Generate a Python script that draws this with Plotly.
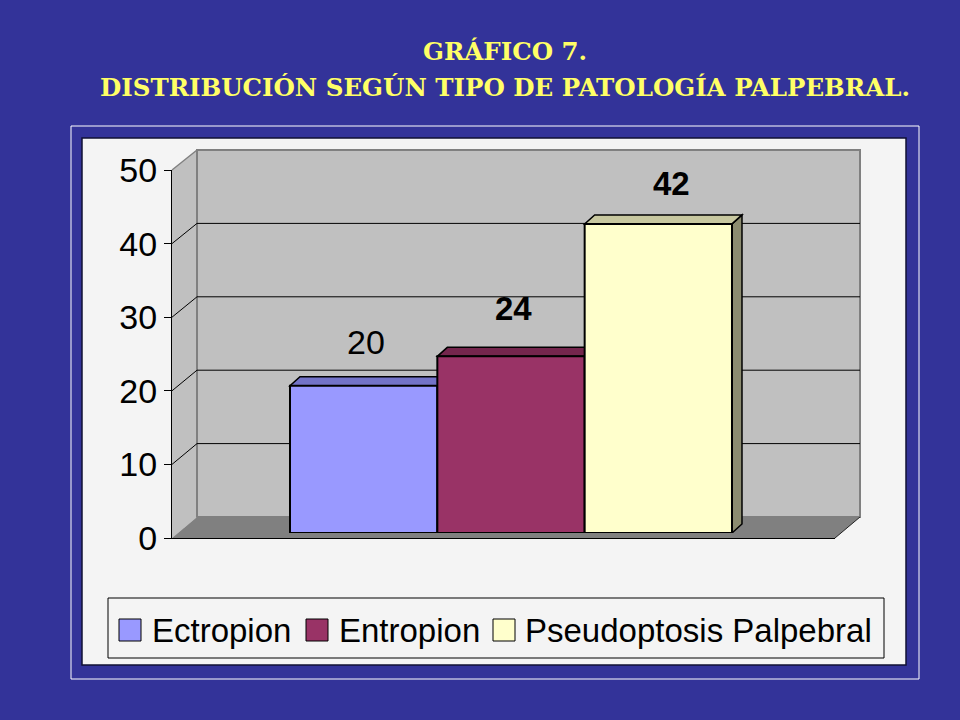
import plotly.graph_objects as go

# ---- data ----
categories = ["Ectropion", "Entropion", "Pseudoptosis Palpebral"]
values = [20, 24, 42]
y_ticks = [0, 10, 20, 30, 40, 50]
title_lines = ["GRÁFICO 7.", "DISTRIBUCIÓN SEGÚN TIPO DE PATOLOGÍA PALPEBRAL."]

# ---- styles ----
front_colors = ["#9999FF", "#993366", "#FFFFCC"]
top_colors = ["#7373C8", "#74264D", "#C8C8A0"]
side_colors = ["#5C5CA0", "#5C1E3D", "#8C8C70"]
label_bold = [False, True, True]
label_xshift = [2, 2, 13]
label_yshift = [44, 48, 40]
legend_sq_x = [119, 306, 493]
legend_txt_x = [150, 337, 523]

W, H = 960, 720
YMAX = 50


def PX(x):
    return x / W


def PY(y):
    return 1 - y / H


# pixel geometry of the 3D box
front_l, front_r, front_b, front_t = 172, 835, 538, 170
back_l, back_r, back_b, back_t = 197, 860, 517, 150
bar_dom_l, bar_dom_r, bar_b, bar_t = 178, 841, 533, 165
bar_left_px, bar_w_px = 290, 147.33
dx_px, dy_px = 10, 9

unit_x = bar_w_px
x2_r0 = -0.5 - (bar_left_px - bar_dom_l) / unit_x
x2_r1 = x2_r0 + (bar_dom_r - bar_dom_l) / unit_x
dx_u = dx_px / unit_x
dy_u = dy_px * YMAX / (bar_b - bar_t)


def fy(v):
    return PY(front_b) + (PY(front_t) - PY(front_b)) * v / YMAX


def by(v):
    return PY(back_b) + (PY(back_t) - PY(back_b)) * v / YMAX


fig = go.Figure()

# bars
for i, (c, v) in enumerate(zip(categories, values)):
    fig.add_trace(go.Bar(
        x=[i], y=[v], width=1, name=c,
        marker=dict(color=front_colors[i], line=dict(color="black", width=2)),
        xaxis="x2", yaxis="y2", showlegend=False, hoverinfo="skip",
    ))
# invisible helper traces so the other subplots exist
fig.add_trace(go.Scatter(x=[None], y=[None], xaxis="x", yaxis="y", showlegend=False, hoverinfo="skip"))
fig.add_trace(go.Scatter(x=[None], y=[None], xaxis="x3", yaxis="y3", showlegend=False, hoverinfo="skip"))

shapes = []
# outer white frame and chart area
shapes.append(dict(type="rect", xref="paper", yref="paper", x0=PX(71), x1=PX(919), y0=PY(679), y1=PY(126),
                   line=dict(color="white", width=1), fillcolor="rgba(0,0,0,0)", layer="below"))
shapes.append(dict(type="rect", xref="paper", yref="paper", x0=PX(82), x1=PX(906), y0=PY(665), y1=PY(138),
                   line=dict(color="#111133", width=1.5), fillcolor="#F4F4F4", layer="below"))
# back wall
shapes.append(dict(type="rect", xref="x3 domain", yref="y3 domain", x0=0, x1=1, y0=0, y1=1,
                   line=dict(color="#808080", width=2), fillcolor="#C0C0C0", layer="below"))
# side wall
path = "M{},{} L{},{} L{},{} L{},{} Z".format(PX(front_l), fy(0), PX(front_l), fy(YMAX),
                                              PX(back_l), by(YMAX), PX(back_l), by(0))
shapes.append(dict(type="path", xref="paper", yref="paper", path=path,
                   fillcolor="#C0C0C0", line=dict(width=0), layer="below"))
shapes.append(dict(type="line", xref="paper", yref="paper", x0=PX(front_l), y0=fy(YMAX),
                   x1=PX(back_l), y1=by(YMAX), line=dict(color="#808080", width=1.5), layer="below"))
shapes.append(dict(type="line", xref="paper", yref="paper", x0=PX(back_l), y0=by(0),
                   x1=PX(back_l), y1=by(YMAX), line=dict(color="#808080", width=2), layer="below"))
# gridlines
for t in y_ticks[1:-1]:
    shapes.append(dict(type="line", xref="x3 domain", yref="y3", x0=0, x1=1, y0=t, y1=t,
                       line=dict(color="black", width=1), layer="below"))
    shapes.append(dict(type="line", xref="paper", yref="paper", x0=PX(front_l), y0=fy(t),
                       x1=PX(back_l), y1=by(t), line=dict(color="black", width=1), layer="below"))
# floor
path = "M{},{} L{},{} L{},{} L{},{} Z".format(PX(front_l), fy(0), PX(back_l), by(0),
                                              PX(back_r), by(0), PX(front_r), fy(0))
shapes.append(dict(type="path", xref="paper", yref="paper", path=path,
                   fillcolor="#808080", line=dict(width=0), layer="below"))
shapes.append(dict(type="line", xref="paper", yref="paper", x0=PX(front_r), y0=fy(0),
                   x1=PX(back_r), y1=by(0), line=dict(color="#222222", width=1), layer="below"))

# bar top and side faces
for i, v in enumerate(values):
    xl, xr = i - 0.5, i + 0.5
    top = "M{},{} L{},{} L{},{} L{},{} Z".format(xl, v, xr, v, xr + dx_u, v + dy_u, xl + dx_u, v + dy_u)
    side = "M{},{} L{},{} L{},{} L{},{} Z".format(xr, 0, xr + dx_u, dy_u, xr + dx_u, v + dy_u, xr, v)
    shapes.append(dict(type="path", xref="x2", yref="y2", path=side, fillcolor=side_colors[i],
                       line=dict(color="black", width=1.5), layer="between"))
    shapes.append(dict(type="path", xref="x2", yref="y2", path=top, fillcolor=top_colors[i],
                       line=dict(color="black", width=1.5), layer="between"))

# manual legend
shapes.append(dict(type="rect", xref="paper", yref="paper", x0=PX(108), x1=PX(884), y0=PY(658), y1=PY(598),
                   line=dict(color="black", width=1), fillcolor="#F4F4F4", layer="below"))
for i in range(len(categories)):
    shapes.append(dict(type="rect", xref="paper", yref="paper", x0=PX(legend_sq_x[i]), x1=PX(legend_sq_x[i] + 22),
                       y0=PY(641), y1=PY(619), line=dict(color="black", width=1),
                       fillcolor=front_colors[i], layer="above"))

annotations = []
title_font = dict(family="DejaVu Serif", size=24.5, color="#FFFF66", weight="bold")
annotations.append(dict(text=title_lines[0], xref="paper", yref="paper", x=PX(505), y=PY(52),
                        showarrow=False, xanchor="center", yanchor="middle", font=title_font))
annotations.append(dict(text=title_lines[1], xref="paper", yref="paper", x=PX(505), y=PY(87),
                        showarrow=False, xanchor="center", yanchor="middle", font=title_font))
for i, v in enumerate(values):
    if label_bold[i]:
        f = dict(family="Liberation Sans, Arial", size=33, color="black", weight="bold")
    else:
        f = dict(family="Liberation Sans, Arial", size=34, color="black")
    annotations.append(dict(text=str(v), xref="x2", yref="y2", x=i, y=v, showarrow=False,
                            xanchor="center", yanchor="middle", xshift=label_xshift[i],
                            yshift=label_yshift[i], font=f))
for i, c in enumerate(categories):
    annotations.append(dict(text=c, xref="paper", yref="paper", x=PX(legend_txt_x[i]), y=PY(630),
                            showarrow=False, xanchor="left", yanchor="middle",
                            font=dict(family="Liberation Sans, Arial", size=33, color="black")))

fig.update_layout(
    width=W, height=H, margin=dict(l=0, r=0, t=0, b=0, autoexpand=False),
    paper_bgcolor="#333399", plot_bgcolor="rgba(0,0,0,0)",
    barmode="overlay", showlegend=False,
    shapes=shapes, annotations=annotations,
    xaxis=dict(domain=[PX(front_l), PX(front_r)], range=[0, 1], showgrid=False, zeroline=False,
               showticklabels=False, ticks="", showline=True, linecolor="black", linewidth=1,
               anchor="y", fixedrange=True, automargin=False),
    yaxis=dict(domain=[PY(front_b), PY(front_t)], range=[0, YMAX], tickvals=y_ticks,
               ticks="outside", ticklen=7, tickcolor="black", showline=True, linecolor="black",
               linewidth=1, showgrid=False, zeroline=False, anchor="x", ticklabelstandoff=0,
               tickfont=dict(family="Liberation Sans, Arial", size=34, color="black"),
               fixedrange=True, automargin=False),
    xaxis2=dict(domain=[PX(bar_dom_l), PX(bar_dom_r)], range=[x2_r0, x2_r1], visible=False,
                anchor="y2", fixedrange=True, automargin=False),
    yaxis2=dict(domain=[PY(bar_b), PY(bar_t)], range=[0, YMAX], visible=False, anchor="x2",
                fixedrange=True, automargin=False),
    xaxis3=dict(domain=[PX(back_l), PX(back_r)], range=[0, 1], visible=False, anchor="y3",
                fixedrange=True, automargin=False),
    yaxis3=dict(domain=[PY(back_b), PY(back_t)], range=[0, YMAX], visible=False, anchor="x3",
                fixedrange=True, automargin=False),
)

fig.write_html(
    "out.html",
    config={"displayModeBar": False},
    post_script="document.body.style.margin='0';document.body.style.background='#333399';"
                "document.documentElement.style.overflow='hidden';",
)
